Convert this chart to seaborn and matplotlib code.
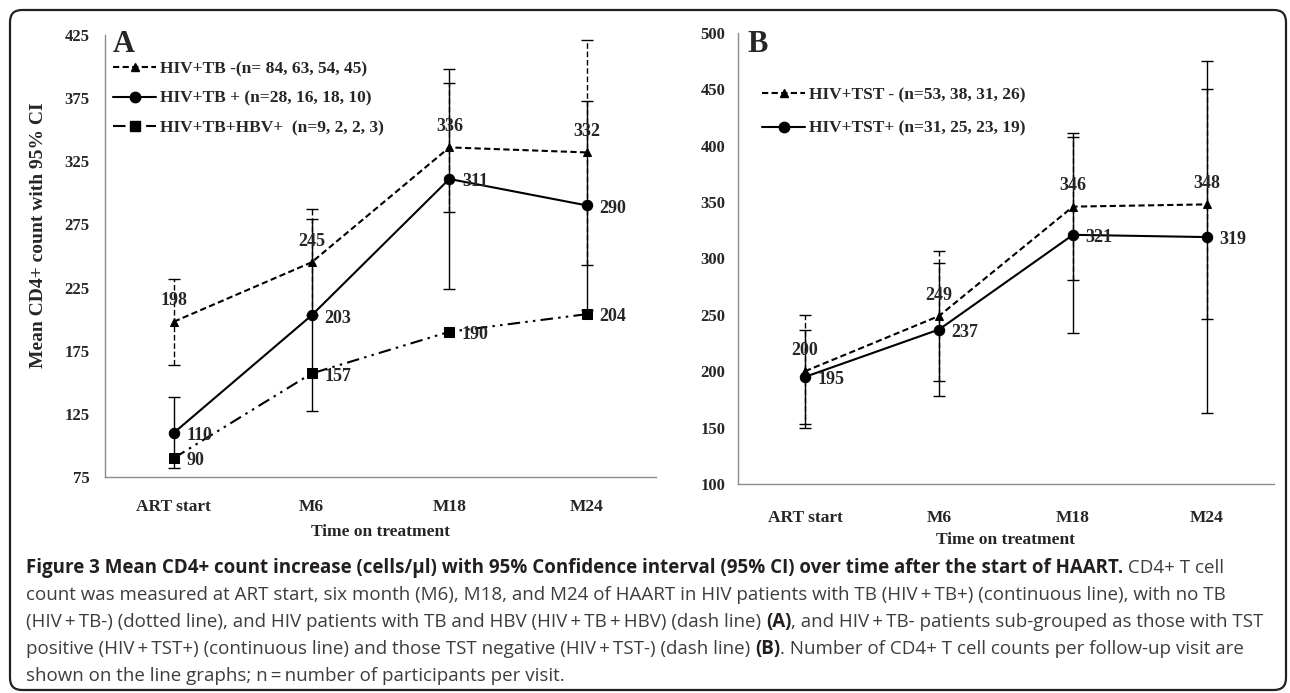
import numpy as np
import pandas as pd
import matplotlib
matplotlib.use("Agg")
import matplotlib.pyplot as plt
import seaborn as sns
from matplotlib.patches import FancyBboxPatch
from matplotlib.lines import Line2D

# ---------------- data ----------------
time_points = ["ART start", "M6", "M18", "M24"]

# Panel A
a_tbneg_mean = [198, 245, 336, 332]
a_tbneg_lo = [164, 203, 285, 243]
a_tbneg_hi = [232, 287, 387, 421]
a_tbpos_mean = [110, 203, 311, 290]
a_tbpos_lo = [82, 127, 224, 207]
a_tbpos_hi = [138, 279, 398, 373]
a_hbv_mean = [90, 157, 190, 204]
a_legend = ["HIV+TB -(n= 84, 63, 54, 45)",
            "HIV+TB + (n=28, 16, 18, 10)",
            "HIV+TB+HBV+  (n=9, 2, 2, 3)"]
a_yticks = [75, 125, 175, 225, 275, 325, 375, 425]

# Panel B
b_tstneg_mean = [200, 249, 346, 348]
b_tstneg_lo = [150, 191, 281, 246]
b_tstneg_hi = [250, 307, 411, 450]
b_tstpos_mean = [195, 237, 321, 319]
b_tstpos_lo = [153, 178, 234, 163]
b_tstpos_hi = [237, 296, 408, 475]
b_legend = ["HIV+TST - (n=53, 38, 31, 26)",
            "HIV+TST+ (n=31, 25, 23, 19)"]
b_yticks = [100, 150, 200, 250, 300, 350, 400, 450, 500]

y_label = "Mean CD4+ count with 95% CI"
x_label = "Time on treatment"

caption_lines = [
    [("Figure 3 Mean CD4+ count increase (cells/\u03bcl) with 95% Confidence interval (95% CI) over time after the start of HAART.", True),
     (" CD4+ T cell", False)],
    [("count was measured at ART start, six month (M6), M18, and M24 of HAART in HIV patients with TB (HIV\u2009+\u2009TB+) (continuous line), with no TB", False)],
    [("(HIV\u2009+\u2009TB-) (dotted line), and HIV patients with TB and HBV (HIV\u2009+\u2009TB\u2009+\u2009HBV) (dash line) ", False),
     ("(A)", True),
     (", and HIV\u2009+\u2009TB- patients sub-grouped as those with TST", False)],
    [("positive (HIV\u2009+\u2009TST+) (continuous line) and those TST negative (HIV\u2009+\u2009TST-) (dash line) ", False),
     ("(B)", True),
     (". Number of CD4+ T cell counts per follow-up visit are", False)],
    [("shown on the line graphs; n\u2009=\u2009number of participants per visit.", False)],
]

# ---------------- style ----------------
sns.set_style("white")
plt.rcParams["font.family"] = ["Liberation Serif", "DejaVu Serif"]
SERIF = "Liberation Serif"
SANS = ["Open Sans", "DejaVu Sans"]
W, H = 1290, 693
SPINE = "#8c8c8c"

fig = plt.figure(figsize=(W / 100, H / 100), dpi=100)


def px_axes(left, top, right, bottom):
    return fig.add_axes([left / W, 1 - bottom / H, (right - left) / W, (bottom - top) / H])


axA = px_axes(105, 35, 656, 477)
axB = px_axes(738, 33, 1274, 484)

x = np.arange(len(time_points))
DASH = (0, (3, 1.6))
ERR_DASH = (0, (4, 2))
DASHDOT2 = (0, (6, 2.5, 1.2, 2.5, 1.2, 2.5))


def series(ax, mean, lo, hi, ls, marker, ms, err_ls):
    df = pd.DataFrame({"t": x, "v": mean})
    if lo is not None:
        m = np.array(mean)
        eb = ax.errorbar(x, m, yerr=[m - np.array(lo), np.array(hi) - m], fmt="none",
                         ecolor="black", elinewidth=1.0, capsize=4, capthick=1.0, zorder=2)
        eb.lines[2][0].set_linestyle(err_ls)
    sns.lineplot(data=df, x="t", y="v", ax=ax, color="black", linestyle=ls, linewidth=1.5,
                 marker=marker, markersize=ms, markeredgecolor="black",
                 markerfacecolor="black", errorbar=None, legend=False, zorder=3)
    return Line2D([], [], color="black", linestyle=ls, linewidth=1.5, marker=marker,
                  markersize=ms, markerfacecolor="black", markeredgecolor="black")


def annotate(ax, vals, where):
    for xi, v in zip(x, vals):
        if where == "above":
            ax.annotate(str(v), (xi, v), xytext=(0, 15), textcoords="offset points",
                        ha="center", va="center", fontsize=13, fontweight="bold", family=SERIF)
        else:
            ax.annotate(str(v), (xi, v), xytext=(9, -2), textcoords="offset points",
                        ha="left", va="center", fontsize=13, fontweight="bold", family=SERIF)


# ---- Panel A ----
hA = [series(axA, a_tbneg_mean, a_tbneg_lo, a_tbneg_hi, DASH, "^", 6, ERR_DASH),
      series(axA, a_tbpos_mean, a_tbpos_lo, a_tbpos_hi, "-", "o", 7.5, "-"),
      series(axA, a_hbv_mean, None, None, DASHDOT2, "s", 7, "-")]
annotate(axA, a_tbneg_mean, "above")
annotate(axA, a_tbpos_mean, "right")
annotate(axA, a_hbv_mean, "right")

# ---- Panel B ----
hB = [series(axB, b_tstneg_mean, b_tstneg_lo, b_tstneg_hi, DASH, "^", 6, ERR_DASH),
      series(axB, b_tstpos_mean, b_tstpos_lo, b_tstpos_hi, "-", "o", 7.5, "-")]
annotate(axB, b_tstneg_mean, "above")
annotate(axB, b_tstpos_mean, "right")

for ax in (axA, axB):
    ax.set_xlim(-0.5, 3.5)
    for s in ("top", "right"):
        ax.spines[s].set_visible(False)
    for s in ("left", "bottom"):
        ax.spines[s].set_color(SPINE)
        ax.spines[s].set_linewidth(1.0)
    ax.set_xticks(x)
    ax.set_xticklabels(time_points, fontsize=12.5, fontweight="bold", family=SERIF)
    ax.set_xlabel(x_label, fontsize=12.5, fontweight="bold", family=SERIF)
    ax.set_ylabel("")
    ax.grid(False)

axA.set_ylim(75, 425)
axA.set_yticks(a_yticks)
axA.set_yticklabels([str(v) for v in a_yticks], fontsize=12, fontweight="bold", family=SERIF)
axA.tick_params(axis="y", length=4, color=SPINE, pad=7)
axA.tick_params(axis="x", which="major", length=0, pad=16)
axA.set_xticks([-0.5, 0.5, 1.5, 2.5, 3.5], minor=True)
axA.tick_params(axis="x", which="minor", length=5, color=SPINE)
axA.xaxis.set_label_coords(0.5, -0.125)
axA.xaxis.label.set_va("center")
axA.set_ylabel(y_label, fontsize=14, fontweight="bold", family=SERIF)
axA.yaxis.set_label_coords(-0.12, 0.548)
axA.yaxis.label.set_va("center")

axB.set_ylim(100, 500)
axB.set_yticks(b_yticks)
axB.set_yticklabels([str(v) for v in b_yticks], fontsize=12, fontweight="bold", family=SERIF)
axB.tick_params(axis="y", length=0, pad=9)
axB.tick_params(axis="x", which="major", length=5, color=SPINE, pad=14)
axB.set_xticks([3.5], minor=True)
axB.tick_params(axis="x", which="minor", length=5, color=SPINE)
axB.xaxis.set_label_coords(0.5, -0.124)
axB.xaxis.label.set_va("center")

# panel letters
fig.text(113 / W, 1 - 44 / H, "A", fontsize=22, fontweight="bold", family=SERIF,
         va="center", ha="left")
fig.text(747 / W, 1 - 44 / H, "B", fontsize=22, fontweight="bold", family=SERIF,
         va="center", ha="left")

leg_prop = {"family": SERIF, "weight": "bold", "size": 12.5}
axA.legend(hA, a_legend, loc="upper left", bbox_to_anchor=(113 / W, 1 - 61 / H),
           bbox_transform=fig.transFigure, frameon=False, handlelength=2.5,
           handletextpad=0.2, borderpad=0, borderaxespad=0, labelspacing=0.78, prop=leg_prop)
axB.legend(hB, b_legend, loc="upper left", bbox_to_anchor=(762 / W, 1 - 87 / H),
           bbox_transform=fig.transFigure, frameon=False, handlelength=2.5,
           handletextpad=0.2, borderpad=0, borderaxespad=0, labelspacing=1.0, prop=leg_prop)

# ---------------- border ----------------
border = FancyBboxPatch((0.10, 0.03), 12.76, 6.80, boxstyle="round,pad=0,rounding_size=0.12",
                        transform=fig.dpi_scale_trans, fill=False, edgecolor="#222222",
                        linewidth=1.6)
fig.add_artist(border)

# ---------------- caption ----------------
renderer = fig.canvas.get_renderer()
base = 13.0
probe = fig.text(0, 0, caption_lines[1][0][0], fontsize=base, family=SANS)
wprobe = probe.get_window_extent(renderer).width
probe.remove()
cap_size = base * (1196.0 / wprobe)

baselines = [573, 600, 627, 654, 681]
for yb, pieces in zip(baselines, caption_lines):
    xp = 26.0
    for txt, bold in pieces:
        t = fig.text(xp / W, 1 - yb / H, txt, fontsize=cap_size, family=SANS,
                     fontweight="bold" if bold else "normal",
                     color="#231f20" if bold else "#3d3d3d", va="baseline", ha="left")
        xp += t.get_window_extent(renderer).width

fig.savefig("out.png", dpi=100)
